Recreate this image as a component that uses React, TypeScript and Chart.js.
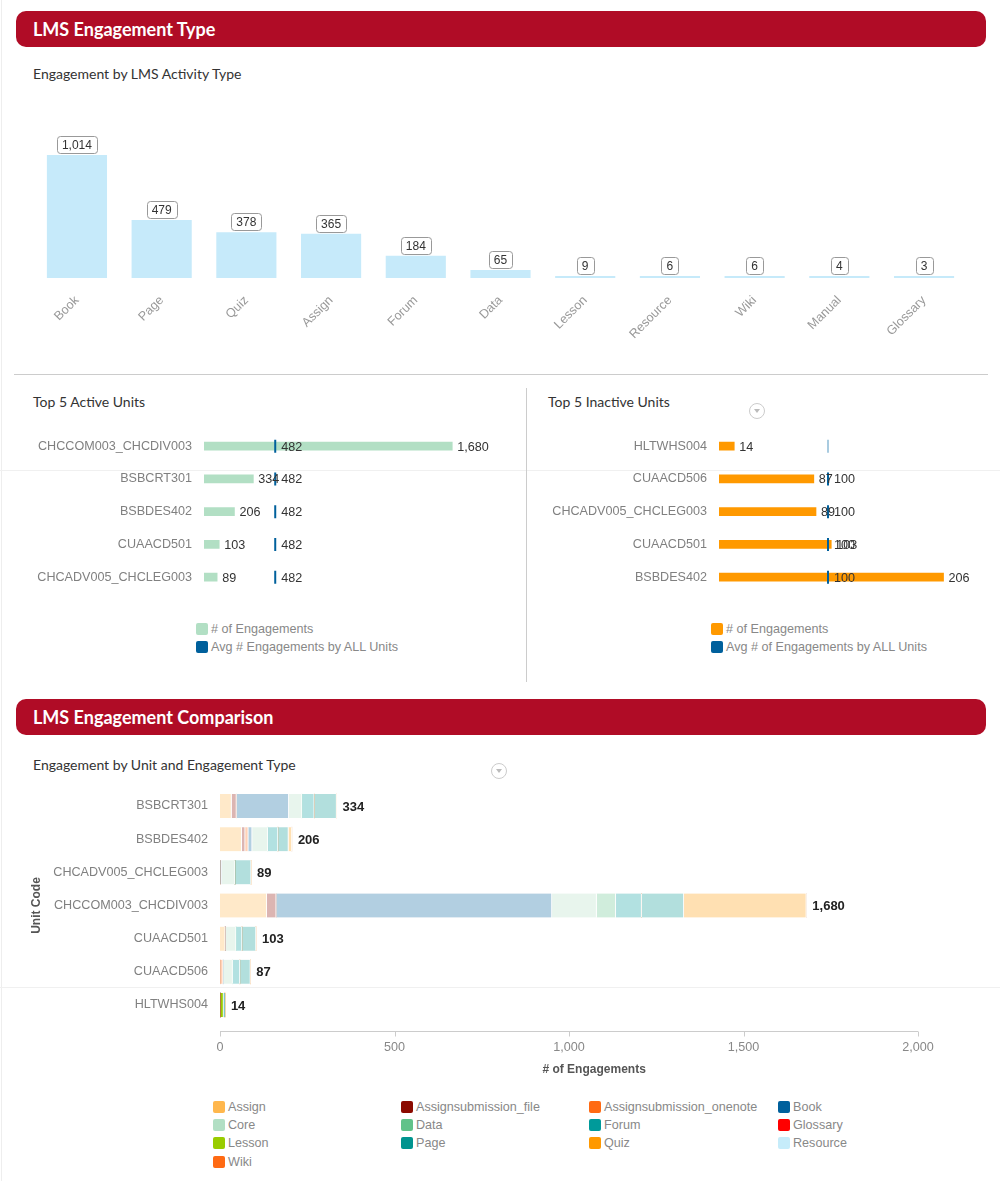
import React, { useEffect, useRef } from 'react';
import { Chart, registerables } from 'chart.js';

Chart.register(...registerables);

const CHART_FONT = '"Liberation Sans", Arial, sans-serif';
const TITLE_FONT = 'Lato, "Open Sans", sans-serif';
Chart.defaults.font.family = CHART_FONT;
const LABEL_SIZE = 12.6;

// ---- Engagement by LMS Activity Type ----
const activityTypes = ['Book', 'Page', 'Quiz', 'Assign', 'Forum', 'Data', 'Lesson', 'Resource', 'Wiki', 'Manual', 'Glossary'];
const activityCounts = [1014, 479, 378, 365, 184, 65, 9, 6, 6, 4, 3];

// ---- Top 5 Active Units ----
const activeUnits = ['CHCCOM003_CHCDIV003', 'BSBCRT301', 'BSBDES402', 'CUAACD501', 'CHCADV005_CHCLEG003'];
const activeCounts = [1680, 334, 206, 103, 89];
const activeAvg = [482, 482, 482, 482, 482];

// ---- Top 5 Inactive Units ----
const inactiveUnits = ['HLTWHS004', 'CUAACD506', 'CHCADV005_CHCLEG003', 'CUAACD501', 'BSBDES402'];
const inactiveCounts = [14, 87, 89, 103, 206];
const inactiveAvg = [100, 100, 100, 100, 100];

// ---- Engagement by Unit and Engagement Type ----
const unitCodes = ['BSBCRT301', 'BSBDES402', 'CHCADV005_CHCLEG003', 'CHCCOM003_CHCDIV003', 'CUAACD501', 'CUAACD506', 'HLTWHS004'];
const engagementTypes = ['Assign', 'Assignsubmission_file', 'Assignsubmission_onenote', 'Book', 'Core', 'Data', 'Forum', 'Glossary', 'Lesson', 'Page', 'Quiz', 'Resource', 'Wiki'];
const assignValues = [33, 62, 0, 134, 15, 0, 0];
const assignFileValues = [14, 10, 0, 27, 0, 0, 0];
const assignOnenoteValues = [0, 9, 0, 0, 0, 9, 0];
const bookValues = [150, 11, 5, 790, 0, 0, 0];
const coreValues = [38, 45, 38, 128, 31, 27, 0];
const dataValues = [0, 0, 0, 55, 0, 0, 0];
const forumValues = [35, 29, 0, 74, 17, 21, 0];
const glossaryValues = [0, 0, 0, 0, 0, 0, 0];
const lessonValues = [0, 0, 0, 0, 0, 0, 10];
const pageValues = [64, 30, 46, 121, 40, 30, 4];
const quizValues = [0, 10, 0, 351, 0, 0, 0];
const resourceValues = [0, 0, 0, 0, 0, 0, 0];
const wikiValues = [0, 0, 0, 0, 0, 0, 0];
const engagementSeries = [assignValues, assignFileValues, assignOnenoteValues, bookValues, coreValues, dataValues, forumValues, glossaryValues, lessonValues, pageValues, quizValues, resourceValues, wikiValues];
const engagementColors = ['#ffb74d', '#8b0a00', '#ff6a13', '#00609c', '#b2dfc4', '#62c28a', '#009a9a', '#ff0000', '#99cc00', '#00948f', '#ff9900', '#c6ecfa', '#ff6a13'];
const highlightedUnit = 'HLTWHS004';
const xTickStep = 500;
const xMax = 2000;

function fade(hex: string, a: number) {
  const r = parseInt(hex.slice(1, 3), 16);
  const g = parseInt(hex.slice(3, 5), 16);
  const b = parseInt(hex.slice(5, 7), 16);
  return `rgba(${r},${g},${b},${a})`;
}

const boxLabelPlugin = {
  id: 'boxLabels',
  afterDatasetsDraw(chart: any) {
    const ctx = chart.ctx;
    const meta = chart.getDatasetMeta(0);
    const data = chart.data.datasets[0].data;
    ctx.save();
    ctx.font = '12px ' + CHART_FONT;
    ctx.textAlign = 'center';
    ctx.textBaseline = 'middle';
    meta.data.forEach((bar: any, i: number) => {
      const txt = Number(data[i]).toLocaleString('en-US');
      const w = Math.round(ctx.measureText(txt).width + 10);
      const h = 17;
      const top = Math.min(bar.y, bar.base - 2);
      const x = Math.round(bar.x - w / 2) + 0.5;
      const y = Math.round(top - 2 - h) + 0.5;
      ctx.beginPath();
      ctx.roundRect(x, y, w, h, 3);
      ctx.fillStyle = '#fff';
      ctx.fill();
      ctx.strokeStyle = '#999';
      ctx.lineWidth = 1;
      ctx.stroke();
      ctx.fillStyle = '#333';
      ctx.fillText(txt, bar.x, y + h / 2 + 0.5);
    });
    ctx.restore();
  },
};

const unitLabelPlugin = {
  id: 'unitLabels',
  afterDatasetsDraw(chart: any, _args: any, opts: any) {
    const ctx = chart.ctx;
    ctx.save();
    ctx.font = LABEL_SIZE + 'px ' + CHART_FONT;
    ctx.textAlign = 'left';
    ctx.textBaseline = 'middle';
    ctx.fillStyle = '#333';
    const skip: number[] = (opts && opts.skipAvg) || [];
    const bars = chart.getDatasetMeta(0);
    bars.data.forEach((bar: any, i: number) => {
      const v = chart.data.datasets[0].data[i];
      ctx.fillText(Number(v).toLocaleString('en-US'), bar.x + 5, bar.y + 1);
    });
    const pts = chart.getDatasetMeta(1);
    pts.data.forEach((pt: any, i: number) => {
      if (skip.includes(i)) return;
      const v = chart.data.datasets[1].data[i];
      ctx.fillText(Number(v).toLocaleString('en-US'), pt.x + 6, pt.y + 1);
    });
    ctx.restore();
  },
};

const stackExtrasPlugin = {
  id: 'stackExtras',
  afterDraw(chart: any) {
    const { ctx, chartArea, scales } = chart;
    const xs = scales.x;
    const ys = scales.y;
    ctx.save();
    // axis line + ticks
    const y0 = Math.round(chartArea.bottom + 9.4) + 0.5;
    ctx.strokeStyle = '#ccc';
    ctx.lineWidth = 1;
    ctx.beginPath();
    ctx.moveTo(chartArea.left, y0);
    ctx.lineTo(chartArea.right, y0);
    xs.ticks.forEach((t: any) => {
      const px = Math.round(xs.getPixelForValue(t.value)) + 0.5;
      ctx.moveTo(px, y0);
      ctx.lineTo(px, y0 + 5);
    });
    ctx.stroke();
    // axis title
    ctx.font = 'bold 12px ' + CHART_FONT;
    ctx.fillStyle = '#555';
    ctx.textAlign = 'center';
    ctx.textBaseline = 'middle';
    ctx.fillText('# of Engagements', chartArea.left + (chartArea.right - chartArea.left) * 0.536, chartArea.bottom + 48.4);
    // totals
    ctx.font = 'bold 13px ' + CHART_FONT;
    ctx.fillStyle = '#222';
    ctx.textAlign = 'left';
    chart.data.labels.forEach((_l: any, i: number) => {
      let total = 0;
      chart.data.datasets.forEach((ds: any) => { total += Number(ds.data[i]) || 0; });
      const px = xs.getPixelForValue(total);
      const py = ys.getPixelForValue(i);
      ctx.fillText(total.toLocaleString('en-US'), px + 6, py + 1);
    });
    ctx.restore();
  },
};

function useChart(ref: React.RefObject<HTMLCanvasElement>, makeConfig: () => any) {
  useEffect(() => {
    if (!ref.current) return;
    const chart = new Chart(ref.current, makeConfig());
    return () => chart.destroy();
  }, []);
}

const noTicksGrid = { display: false, drawTicks: false };

function fixWidth(w: number) {
  return (s: any) => {
    s.width = w;
    s.paddingTop = 0;
    s.paddingBottom = 0;
  };
}

function unitsConfig(labels: string[], counts: number[], avg: number[], barColor: string, avgColors: string[], max: number, yWidth: number, padRight: number, skipAvg: number[]) {
  return {
    type: 'bar',
    data: {
      labels,
      datasets: [
        { type: 'bar', data: counts, backgroundColor: barColor, barThickness: 8, indexAxis: 'y', order: 1 },
        {
          type: 'line', data: avg, showLine: false, indexAxis: 'y', order: 0,
          pointStyle: 'line', pointRotation: 90, pointRadius: 6.5, pointBorderWidth: 2,
          pointBorderColor: avgColors, borderColor: avgColors, pointBackgroundColor: avgColors,
        },
      ],
    },
    options: {
      indexAxis: 'y',
      animation: false,
      responsive: false,
      devicePixelRatio: 1,
      layout: { padding: { left: 0, right: padRight, top: 9.8, bottom: 0 } },
      plugins: { legend: { display: false }, tooltip: { enabled: false }, unitLabels: { skipAvg } },
      scales: {
        x: { display: false, min: 0, max },
        y: {
          grid: noTicksGrid, border: { display: false },
          ticks: { color: '#808080', padding: 12, font: { size: LABEL_SIZE } },
          afterFit: fixWidth(yWidth),
        },
      },
    },
    plugins: [unitLabelPlugin],
  };
}

const Text = ({ x, y, children, size = 13, color = '#333', weight = 400, font = TITLE_FONT }: any) => (
  <div style={{ position: 'absolute', left: x, top: y - 10, height: 20, lineHeight: '20px', fontSize: size, color, fontWeight: weight, fontFamily: font, whiteSpace: 'nowrap' }}>{children}</div>
);

const Header = ({ y, text }: any) => (
  <div style={{ position: 'absolute', left: 16, top: y, width: 970, height: 36, background: '#b00c26', borderRadius: 10 }}>
    <div style={{ position: 'absolute', left: 17, top: 0, lineHeight: '36px', fontSize: 18, color: '#fff', fontFamily: TITLE_FONT, fontWeight: 700 }}>{text}</div>
  </div>
);

const Dropdown = ({ x, y }: any) => (
  <div style={{ position: 'absolute', left: x - 8, top: y - 8, width: 14, height: 14, border: '1px solid #ccc', borderRadius: '50%' }}>
    <div style={{ position: 'absolute', left: 3.5, top: 5, width: 0, height: 0, borderLeft: '3.5px solid transparent', borderRight: '3.5px solid transparent', borderTop: '4px solid #bbb' }} />
  </div>
);

const LegendItem = ({ x, y, color, label }: any) => (
  <div style={{ position: 'absolute', left: x, top: y - 8, height: 16, display: 'flex', alignItems: 'center', whiteSpace: 'nowrap' }}>
    <div style={{ width: 12, height: 12, borderRadius: 2, background: color, marginRight: 3 }} />
    <span style={{ fontFamily: CHART_FONT, fontSize: LABEL_SIZE, color: '#888' }}>{label}</span>
  </div>
);

export default function App() {
  const topRef = useRef<HTMLCanvasElement>(null);
  const activeRef = useRef<HTMLCanvasElement>(null);
  const inactiveRef = useRef<HTMLCanvasElement>(null);
  const stackRef = useRef<HTMLCanvasElement>(null);

  useChart(topRef, () => ({
    type: 'bar',
    data: {
      labels: activityTypes,
      datasets: [{ data: activityCounts, backgroundColor: '#c6eafa', barPercentage: 0.71, categoryPercentage: 1, minBarLength: 2 }],
    },
    options: {
      animation: false,
      responsive: false,
      devicePixelRatio: 1,
      layout: { padding: { left: 34.6, right: 33.6, top: 32.4, bottom: 0 } },
      plugins: { legend: { display: false }, tooltip: { enabled: false } },
      scales: {
        x: {
          grid: noTicksGrid, border: { display: false },
          ticks: { color: '#999', font: { size: LABEL_SIZE }, maxRotation: 45, minRotation: 45, padding: 15, autoSkip: false },
          afterFit: (s: any) => { s.height = 102; },
        },
        y: { display: false, min: 0, max: 1200 },
      },
    },
    plugins: [boxLabelPlugin],
  }));

  useChart(activeRef, () => unitsConfig(activeUnits, activeCounts, activeAvg, '#b2dfc4', activeAvg.map(() => '#00609c'), 1800, 204, 50, []));
  useChart(inactiveRef, () => unitsConfig(inactiveUnits, inactiveCounts, inactiveAvg, '#ff9900', inactiveAvg.map((_, i) => (i === 0 ? '#a9cbe0' : '#00609c')), 240, 193, 19.4, [0]));

  useChart(stackRef, () => ({
    type: 'bar',
    data: {
      labels: unitCodes,
      datasets: engagementTypes.map((t, k) => ({
        label: t,
        data: engagementSeries[k],
        backgroundColor: unitCodes.map((u) => (u === highlightedUnit ? engagementColors[k] : fade(engagementColors[k], 0.3))),
        borderColor: '#fff',
        borderWidth: { top: 0, bottom: 0, left: 0, right: 1 },
        borderSkipped: false,
        barThickness: 24,
      })),
    },
    options: {
      indexAxis: 'y',
      animation: false,
      responsive: false,
      devicePixelRatio: 1,
      layout: { padding: { left: 25, right: 82, top: 9.4, bottom: 0 } },
      plugins: { legend: { display: false }, tooltip: { enabled: false } },
      scales: {
        x: {
          stacked: true, min: 0, max: xMax,
          grid: noTicksGrid, border: { display: false },
          ticks: { stepSize: xTickStep, color: '#888', padding: 18, font: { size: LABEL_SIZE } },
          afterFit: (s: any) => { s.height = 59.4; },
        },
        y: {
          stacked: true,
          grid: noTicksGrid, border: { display: false },
          ticks: { color: '#808080', padding: 12, font: { size: LABEL_SIZE } },
          title: { display: true, text: 'Unit Code', color: '#555', font: { size: 12, weight: 'bold' } },
          afterFit: fixWidth(195),
        },
      },
    },
    plugins: [stackExtrasPlugin],
  }));

  const legendCols = [213, 401, 589, 778];
  const legendRows = [1107, 1125, 1143, 1162];

  return (
    <div style={{ position: 'absolute', left: 0, top: 0, width: 1000, height: 1181, background: '#fff', overflow: 'hidden' }}>
      {/* faint page seams */}
      <div style={{ position: 'absolute', left: 1, top: 0, width: 1, height: 1181, background: '#eee' }} />
      <div style={{ position: 'absolute', left: 0, top: 470, width: 1000, height: 1, background: '#f0f0f0' }} />
      <div style={{ position: 'absolute', left: 0, top: 987, width: 1000, height: 1, background: '#f0f0f0' }} />

      <Header y={11} text="LMS Engagement Type" />
      <Text x={33} y={74} size={14}>Engagement by LMS Activity Type</Text>
      <canvas ref={topRef} width={1000} height={280} style={{ position: 'absolute', left: 0, top: 100 }} />

      <div style={{ position: 'absolute', left: 14, top: 374, width: 974, height: 1, background: '#ccc' }} />
      <div style={{ position: 'absolute', left: 526, top: 388, width: 1, height: 294, background: '#ccc' }} />

      <Text x={33} y={402} size={14}>Top 5 Active Units</Text>
      <Text x={548} y={402} size={14}>Top 5 Inactive Units</Text>
      <Dropdown x={757} y={411} />

      <canvas ref={activeRef} width={520} height={182} style={{ position: 'absolute', left: 0, top: 420 }} />
      <canvas ref={inactiveRef} width={474} height={182} style={{ position: 'absolute', left: 526, top: 420 }} />

      <LegendItem x={196} y={629} color="#b2dfc4" label="# of Engagements" />
      <LegendItem x={196} y={647} color="#00609c" label="Avg # Engagements by ALL Units" />
      <LegendItem x={711} y={629} color="#ff9900" label="# of Engagements" />
      <LegendItem x={711} y={647} color="#00609c" label="Avg # of Engagements by ALL Units" />

      <Header y={699} text="LMS Engagement Comparison" />
      <Text x={33} y={765} size={14}>Engagement by Unit and Engagement Type</Text>
      <Dropdown x={499} y={771} />

      <canvas ref={stackRef} width={1000} height={301} style={{ position: 'absolute', left: 0, top: 780 }} />

      {engagementTypes.map((t, k) => (
        <LegendItem key={t} x={legendCols[k % 4]} y={legendRows[Math.floor(k / 4)]} color={engagementColors[k]} label={t} />
      ))}
    </div>
  );
}
